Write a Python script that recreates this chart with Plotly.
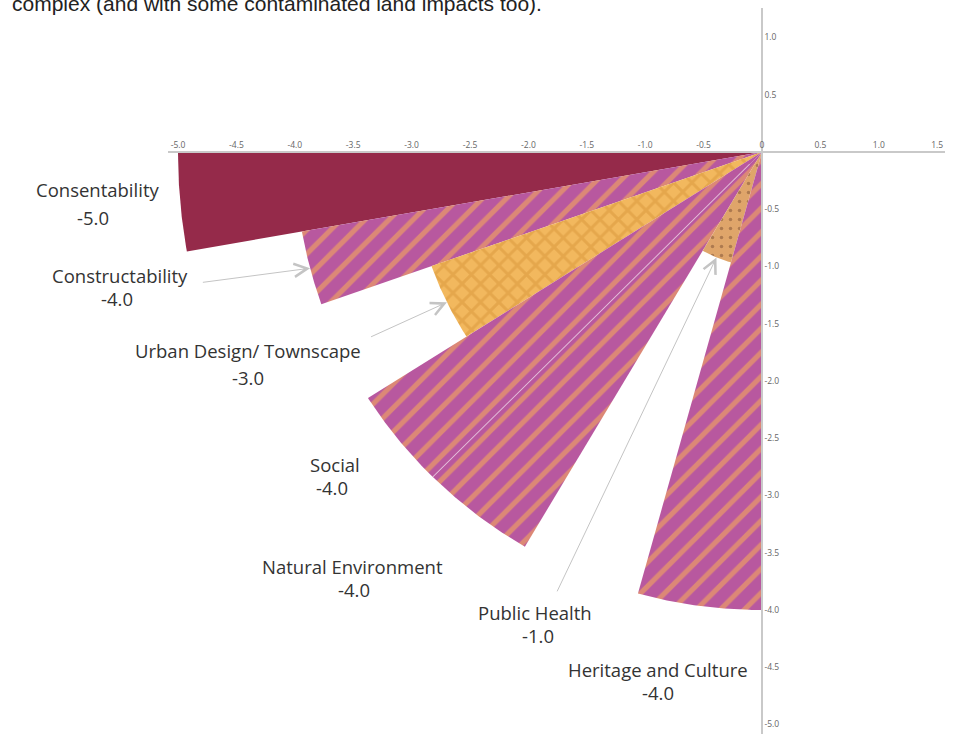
import numpy as np
import plotly.graph_objects as go

# ---- data -------------------------------------------------------------
CATEGORIES = [
    "Consentability",
    "Constructability",
    "Urban Design/ Townscape",
    "Social",
    "Natural Environment",
    "Public Health",
    "Heritage and Culture",
]
SCORES = [-5.0, -4.0, -3.0, -4.0, -4.0, -1.0, -4.0]

X_TICKS = [-5.0, -4.5, -4.0, -3.5, -3.0, -2.5, -2.0, -1.5, -1.0, -0.5, 0.0, 0.5, 1.0, 1.5]
Y_TICKS = [1.0, 0.5, -0.5, -1.0, -1.5, -2.0, -2.5, -3.0, -3.5, -4.0, -4.5, -5.0]

# ---- layout constants -------------------------------------------------
W, H = 966, 734
ORIGIN_PX = (762, 152)           # where the two axes cross
PX_PER_X, PX_PER_Y = 116.8, 114.5

# angular sweep of each sector, degrees, clockwise from the negative x axis
SWEEP_DEG = [10.0, 9.4, 13.1, 12.7, 14.3, 15.1, 15.4]

# label anchors (data units): category name and score
NAME_POS = [(-5.69, -0.33), (-5.50, -1.08), (-4.40, -1.73), (-3.66, -2.73),
            (-3.51, -3.62), (-1.94, -4.02), (-0.89, -4.52)]
VALUE_POS = [(-5.73, -0.57), (-5.52, -1.28), (-4.40, -1.97), (-3.68, -2.93),
             (-3.49, -3.82), (-1.92, -4.22), (-0.89, -4.72)]
# leader-line tails (data units) for the labels that use an arrow
ARROW_TAIL = {1: (-4.80, -1.14), 2: (-3.36, -1.62), 5: (-1.76, -3.85)}

SOLID = None
HATCH = dict(shape="/", bgcolor="#b8589f", fgcolor="#ffb84e", size=17, solidity=0.3)
GRID = dict(shape="x", bgcolor="#f2b85e", fgcolor="#d8953a", size=13, solidity=0.4)
DOTS = dict(shape=".", bgcolor="#dfa56a", fgcolor="#7b5034", size=9, solidity=0.12)
STYLES = [SOLID, HATCH, GRID, HATCH, HATCH, DOTS, HATCH]
SOLID_COLOR = "#952a4a"

TEXT_FONT = dict(family="Open Sans", size=18.5, color="#333333")
TICK_FONT = dict(family="Open Sans", size=8.5, color="#666666")
AXIS_COLOR = "#c9c9c9"

ox, oy = ORIGIN_PX


def to_paper(x, y):
    """Data units -> paper fraction (labels may sit outside the axis range)."""
    return (ox + x * PX_PER_X) / W, (H - (oy - y * PX_PER_Y)) / H


def polar_point(r, deg):
    """Point at radius r, deg degrees clockwise below the negative x axis."""
    t = np.radians(deg)
    return -r * np.cos(t), -r * np.sin(t)


def sector(r, a0, a1, n=60):
    t = np.linspace(a0, a1, n)
    xs, ys = polar_point(r, t)
    return np.concatenate([[0], xs, [0]]), np.concatenate([[0], ys, [0]])


fig = go.Figure()

edges = np.concatenate([[0.0], np.cumsum(SWEEP_DEG)])
for i, (name, score) in enumerate(zip(CATEGORIES, SCORES)):
    r = abs(score)
    xs, ys = sector(r, edges[i], edges[i + 1])
    kw = dict(x=xs, y=ys, mode="lines", fill="toself", line=dict(width=0),
              name=name, hoverinfo="name", showlegend=False)
    if STYLES[i] is None:
        kw["fillcolor"] = SOLID_COLOR
    else:
        kw["fillcolor"] = STYLES[i]["bgcolor"]
        kw["fillpattern"] = STYLES[i]
    fig.add_trace(go.Scatter(**kw))

# faint seam between the Social and Natural Environment sectors
seam_r0, seam_r1 = 0.15, abs(SCORES[3])
sx0, sy0 = polar_point(seam_r0, edges[4])
sx1, sy1 = polar_point(seam_r1, edges[4])
fig.add_trace(go.Scatter(x=[sx0, sx1], y=[sy0, sy1], mode="lines",
                         line=dict(color="rgba(255,255,255,0.45)", width=1.1),
                         hoverinfo="skip", showlegend=False))

annotations = []
for i, (name, score) in enumerate(zip(CATEGORIES, SCORES)):
    nx, ny = to_paper(*NAME_POS[i])
    vx, vy = to_paper(*VALUE_POS[i])
    annotations.append(dict(x=nx, y=ny, xref="paper", yref="paper", text=name,
                            showarrow=False, font=TEXT_FONT,
                            xanchor="center", yanchor="middle"))
    annotations.append(dict(x=vx, y=vy, xref="paper", yref="paper",
                            text=f"{score:.1f}", showarrow=False, font=TEXT_FONT,
                            xanchor="center", yanchor="middle"))
    if i in ARROW_TAIL:
        mid = 0.5 * (edges[i] + edges[i + 1])
        hx, hy = polar_point(abs(score), mid)
        tx, ty = ARROW_TAIL[i]
        annotations.append(dict(x=hx, y=hy, xref="x", yref="y",
                                ax=tx, ay=ty, axref="x", ayref="y",
                                text="", showarrow=True, arrowhead=5,
                                arrowsize=2.6, arrowwidth=1,
                                arrowcolor="#c4c4c4", standoff=0))

# running text of the surrounding page, cut by the top edge
annotations.append(dict(x=10 / W, y=1 - 4 / H, xref="paper", yref="paper",
                        text="complex (and with some contaminated land impacts too).",
                        showarrow=False, xanchor="left", yanchor="middle",
                        font=dict(family="Liberation Sans", size=21, color="#222222")))

x_left_px, x_right_px = 168, 945
y_top_px = 8

fig.update_layout(
    width=W, height=H, autosize=False,
    margin=dict(l=0, r=0, t=0, b=0),
    paper_bgcolor="white", plot_bgcolor="rgba(0,0,0,0)",
    annotations=annotations,
    xaxis=dict(
        domain=[x_left_px / W, x_right_px / W],
        range=[(x_left_px - ox) / PX_PER_X, (x_right_px - ox) / PX_PER_X],
        anchor="free", position=(H - oy) / H, side="top",
        showline=True, linecolor=AXIS_COLOR, linewidth=1.5,
        showgrid=False, zeroline=False, ticks="",
        tickvals=X_TICKS,
        ticktext=["0" if v == 0 else f"{v:.1f}" for v in X_TICKS],
        tickfont=TICK_FONT, fixedrange=True,
    ),
    yaxis=dict(
        domain=[0, (H - y_top_px) / H],
        range=[(oy - H) / PX_PER_Y, (oy - y_top_px) / PX_PER_Y],
        anchor="free", position=ox / W, side="right",
        showline=True, linecolor=AXIS_COLOR, linewidth=1.5,
        showgrid=False, zeroline=False, ticks="",
        tickvals=Y_TICKS,
        ticktext=[f"{v:.1f}" for v in Y_TICKS],
        tickfont=TICK_FONT, fixedrange=True,
    ),
)

fig.write_html("out.html")
